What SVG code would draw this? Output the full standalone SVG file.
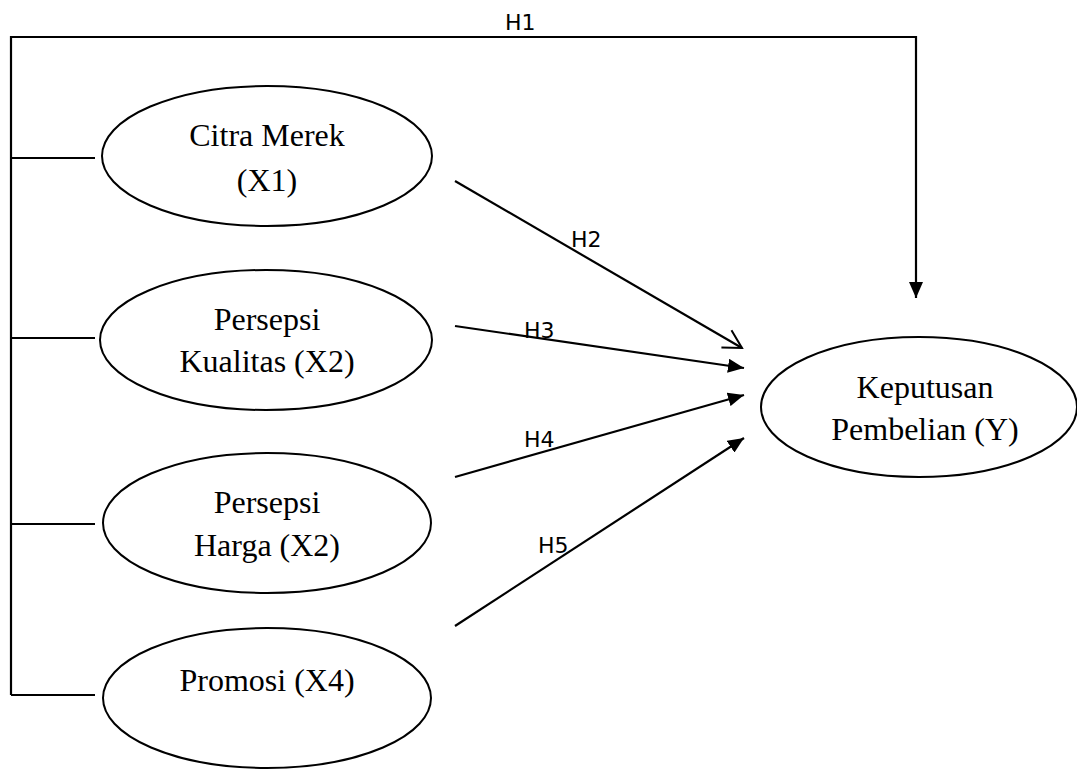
<svg xmlns="http://www.w3.org/2000/svg" width="1077" height="769" viewBox="0 0 1077 769">
<style>
.node ellipse{fill:#fff;stroke:#000;stroke-width:2}
.node text{font-family:"Liberation Serif","Times New Roman",serif;font-size:32px;fill:#000;text-anchor:middle}
.conn line,.conn path{stroke:#000;stroke-width:2.2;fill:none}
.lbl{font-family:"DejaVu Sans",sans-serif;font-size:22px;fill:#000}
</style>
<defs>
<marker id="fa" markerUnits="userSpaceOnUse" markerWidth="16" markerHeight="14" refX="16" refY="7" orient="auto"><path d="M0,0 L16,7 L0,14 z" fill="#000"/></marker>
<marker id="oa" markerUnits="userSpaceOnUse" markerWidth="22" markerHeight="22" refX="19" refY="11" orient="auto" overflow="visible"><path d="M1,1 L19,11 L1,21" fill="none" stroke="#000" stroke-width="2"/></marker>
</defs>
<g class="conn">
<path d="M11,695 V37 H916 V298" marker-end="url(#fa)"/>
<line x1="11" y1="158" x2="95" y2="158"/>
<line x1="11" y1="338" x2="95" y2="338"/>
<line x1="11" y1="524" x2="95" y2="524"/>
<line x1="11" y1="695" x2="95" y2="695"/>
<line x1="455" y1="181" x2="742" y2="348" marker-end="url(#oa)"/>
<line x1="455" y1="326" x2="744" y2="368" marker-end="url(#fa)"/>
<line x1="455" y1="477" x2="744" y2="395" marker-end="url(#fa)"/>
<line x1="455" y1="626" x2="744" y2="438" marker-end="url(#fa)"/>
<text class="lbl" x="505" y="30">H1</text>
<text class="lbl" x="571" y="247">H2</text>
<text class="lbl" x="524" y="338">H3</text>
<text class="lbl" x="524" y="447">H4</text>
<text class="lbl" x="538" y="553">H5</text>
</g>
<g id="x1" class="node"><ellipse cx="267" cy="156" rx="165" ry="70"/><text x="267" y="146">Citra Merek</text><text x="267" y="191">(X1)</text></g>
<g id="x2" class="node"><ellipse cx="266" cy="340" rx="166" ry="70"/><text x="267" y="330">Persepsi</text><text x="267" y="372">Kualitas (X2)</text></g>
<g id="x3" class="node"><ellipse cx="267" cy="523" rx="164" ry="70"/><text x="267" y="513">Persepsi</text><text x="267" y="556">Harga (X2)</text></g>
<g id="x4" class="node"><ellipse cx="267" cy="698" rx="164" ry="70"/><text x="267" y="691">Promosi (X4)</text></g>
<g id="y" class="node"><ellipse cx="919" cy="407" rx="158" ry="70"/><text x="925" y="398">Keputusan</text><text x="925" y="440">Pembelian (Y)</text></g>
</svg>
